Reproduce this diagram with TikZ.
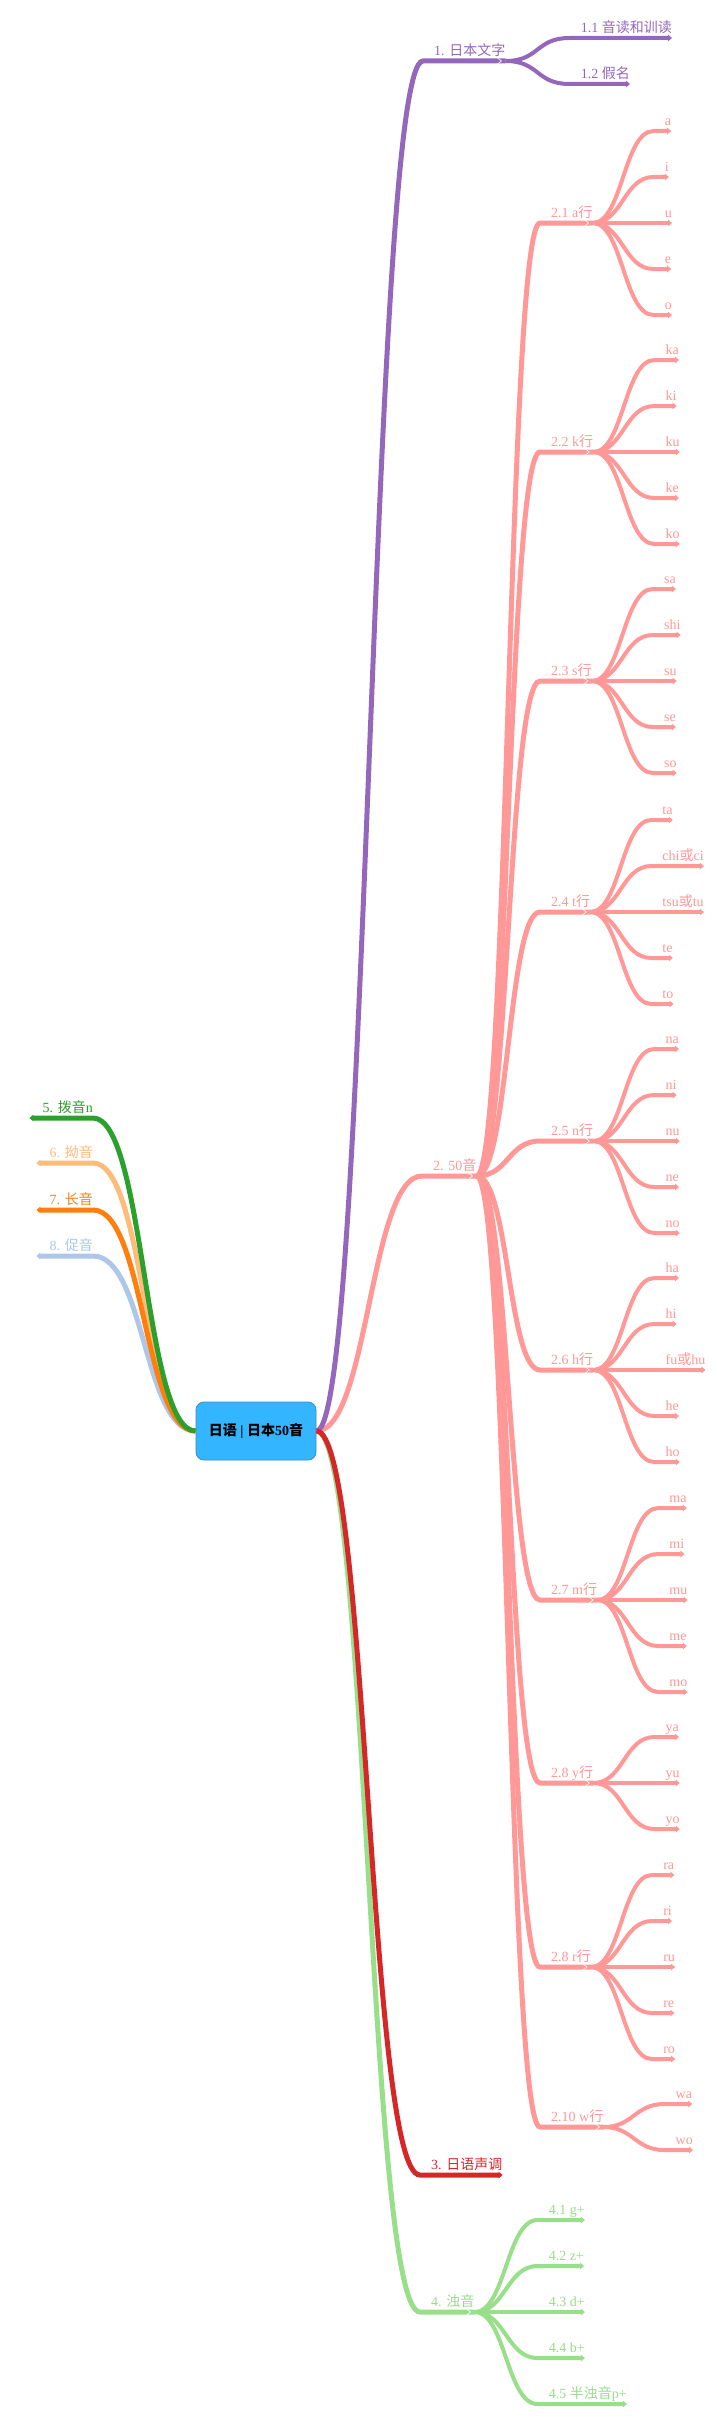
\documentclass[tikz,border=0pt]{standalone}
\usepackage{fontspec}
\setmainfont{Liberation Serif}
\newfontfamily\zhfont{Noto Sans CJK SC}
\newcommand{\zh}[1]{{\zhfont #1}}
\usetikzlibrary{arrows.meta}
\definecolor{mmpurple}{HTML}{9467BD}
\definecolor{mmsalmon}{HTML}{FF9896}
\definecolor{mmred}{HTML}{D62728}
\definecolor{mmlime}{HTML}{98DF8A}
\definecolor{mmgreen}{HTML}{2CA02C}
\definecolor{mmpeach}{HTML}{FFBB78}
\definecolor{mmorange}{HTML}{FF7F0E}
\definecolor{mmsky}{HTML}{AEC7E8}
\definecolor{rootfill}{HTML}{33B5FF}
\definecolor{rootdraw}{HTML}{3A8CC8}
\newcommand{\chev}[1]{\draw[white, line width=0.6pt] ([shift={(-8,-3)}]#1.south east) -- ([shift={(-4,0)}]#1.south east) -- ([shift={(-8,3)}]#1.south east);}

\begin{document}
\begin{tikzpicture}[
    x=1pt, y=-1pt,
    rootbox/.style={draw=rootdraw, fill=rootfill, rounded corners=8pt, line width=0.8pt, minimum width=120pt, minimum height=58pt, font=\fontsize{14}{16}\selectfont\bfseries},
    topic/.style={anchor=south west, inner xsep=0pt, inner ysep=5pt, text depth=0pt, text=#1, font=\fontsize{14}{16}\selectfont, execute at begin node={\hspace*{11pt}}},
    ltopic/.style={anchor=south east, inner xsep=0pt, inner ysep=5pt, text depth=0pt, text=#1, font=\fontsize{14}{16}\selectfont, execute at begin node={\hspace*{13pt}}},
    mainline/.style={draw=#1, line width=5pt},
    leafline/.style={draw=#1, line width=4pt},
    endtip/.style={-{Triangle[length=4pt,width=6.5pt]}},
    starttip/.style={{Triangle[length=4pt,width=6.5pt]}-},
    mm/.style={to path={.. controls ([xshift=#1]\tikztostart) and ([xshift=-#1]\tikztotarget) .. (\tikztotarget)}}
]

% page
\fill[white] (0,0) rectangle (717,2435);

% root
\node[rootbox] (root) at (256,1431) {\zh{日语} | \zh{日本}50\zh{音}};

% main topics, right
\node[topic=mmpurple] (t1) at (423,61) {1. \zh{日本文字}};
\node[topic=mmsalmon] (t2) at (422,1176) {2. 50\zh{音}};
\node[topic=mmred] (t3) at (420,2175) {3. \zh{日语声调}};
\node[topic=mmlime] (t4) at (420,2312) {4. \zh{浊音}};

% main topics, left
\node[ltopic=mmgreen] (t5) at (93,1118) {5. \zh{拨音}n};
\node[ltopic=mmpeach] (t6) at (93,1163) {6. \zh{拗音}};
\node[ltopic=mmorange] (t7) at (93,1210) {7. \zh{长音}};
\node[ltopic=mmsky] (t8) at (93,1256) {8. \zh{促音}};

\draw[mainline=mmsky, starttip] (t8.south west) -- (t8.south east) to[mm=52] (root.west);
\draw[mainline=mmpeach, starttip] (t6.south west) -- (t6.south east) to[mm=52] (root.west);
\draw[mainline=mmorange, starttip] (t7.south west) -- (t7.south east) to[mm=52] (root.west);
\draw[mainline=mmgreen, starttip] (t5.south west) -- (t5.south east) to[mm=52] (root.west);

\draw[mainline=mmlime] (root.east) to[mm=52] (t4.south west) -- (t4.south east);
\draw[mainline=mmsalmon] (root.east) to[mm=52] (t2.south west) -- (t2.south east);
\draw[mainline=mmpurple] (root.east) to[mm=52] (t1.south west) -- (t1.south east);
\draw[mainline=mmred, endtip] (root.east) to[mm=52] (t3.south west) -- (t3.south east);

% 1. kana
\node[topic=mmpurple] (t1-1) at ([shift={(64,-23)}]t1.south east) {1.1 \zh{音读和训读}};
\node[topic=mmpurple] (t1-2) at ([shift={(64,23)}]t1.south east) {1.2 \zh{假名}};
\foreach \j in {1,2}
  \draw[leafline=mmpurple, endtip] (t1.south east) to[mm=34] (t1-\j.south west) -- (t1-\j.south east);
\chev{t1}

% 2. gojuon rows
\foreach \r/\lbl/\yy/\top/\kids in {
    1/2.1 a/223/-92/{a,i,u,e,o},
    2/2.2 k/452/-92/{ka,ki,ku,ke,ko},
    3/2.3 s/681/-92/{sa,shi,su,se,so},
    4/2.4 t/912/-92/{ta,chi\zh{或}ci,tsu\zh{或}tu,te,to},
    5/2.5 n/1141/-92/{na,ni,nu,ne,no},
    6/2.6 h/1370/-92/{ha,hi,fu\zh{或}hu,he,ho},
    7/2.7 m/1600/-92/{ma,mi,mu,me,mo},
    8/2.8 y/1783/-46/{ya,yu,yo},
    9/2.8 r/1967/-92/{ra,ri,ru,re,ro},
    10/2.10 w/2127/-23/{wa,wo}} {
  \node[topic=mmsalmon] (r\r) at (540,\yy) {\lbl\zh{行}};
  \draw[mainline=mmsalmon] (t2.south east) to[mm=32] (r\r.south west) -- (r\r.south east);
  \foreach \k [count=\j] in \kids {
    \pgfmathsetmacro\dy{\top+(\j-1)*46}
    \node[topic=mmsalmon] (r\r-\j) at ([shift={(61,\dy)}]r\r.south east) {\k};
    \draw[leafline=mmsalmon, endtip] (r\r.south east) to[mm=30] (r\r-\j.south west) -- (r\r-\j.south east);
  }
  \chev{r\r}
}
\chev{t2}

% 4. dakuon
\foreach \k [count=\j] in {g+, z+, d+, b+, \zh{半浊音}p+} {
  \pgfmathsetmacro\dy{-92+(\j-1)*46}
  \node[topic=mmlime] (t4-\j) at ([shift={(63,\dy)}]t4.south east) {4.\j\ \k};
  \draw[leafline=mmlime, endtip] (t4.south east) to[mm=31] (t4-\j.south west) -- (t4-\j.south east);
}
\chev{t4}
\end{tikzpicture}
\end{document}
